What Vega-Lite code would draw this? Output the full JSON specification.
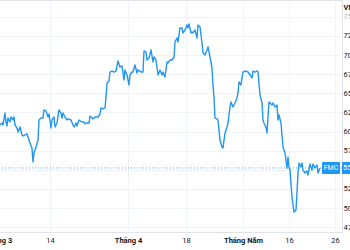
{
  "$schema": "https://vega.github.io/schema/vega-lite/v6.json",
  "width": 344,
  "height": 232,
  "autosize": {"type": "none"},
  "padding": {"left": -2, "top": 0, "right": 8, "bottom": 18},
  "background": "#ffffff",
  "config": {
    "view": {"stroke": "#e0e3eb"},
    "font": "Roboto",
    "axis": {"gridColor": "#f0f3fa", "gridWidth": 1, "domainColor": "#e0e3eb", "ticks": false, "labelColor": "#131722", "labelFontSize": 7.5}
  },
  "datasets": {
    "series": [
      {"i":0,"price":60.87},{"i":2,"price":61.13},{"i":3,"price":60.87},{"i":5,"price":62.43},{"i":6,"price":61.26},{"i":7,"price":60.74},{"i":8,"price":61.78},{"i":10,"price":61.26},{"i":11,"price":61.91},{"i":13,"price":61.52},{"i":14,"price":61.91},{"i":15,"price":60.87},{"i":17,"price":60.47},{"i":18,"price":59.95},{"i":20,"price":60.60},{"i":22,"price":59.56},{"i":23,"price":59.43},{"i":27,"price":59.69},{"i":28,"price":59.30},{"i":30,"price":58.51},{"i":32,"price":57.86},{"i":33,"price":56.03},{"i":34,"price":57.21},{"i":36,"price":57.99},{"i":38,"price":58.91},{"i":39,"price":61.52},{"i":41,"price":61.78},{"i":43,"price":61.78},{"i":44,"price":62.83},{"i":46,"price":62.70},{"i":48,"price":61.91},{"i":49,"price":62.30},{"i":51,"price":60.47},{"i":52,"price":61.52},{"i":54,"price":61.91},{"i":55,"price":60.60},{"i":57,"price":61.13},{"i":59,"price":62.83},{"i":61,"price":62.43},{"i":62,"price":61.78},{"i":63,"price":62.43},{"i":65,"price":61.91},{"i":67,"price":61.52},{"i":68,"price":61.65},{"i":71,"price":61.52},{"i":73,"price":60.87},{"i":74,"price":60.60},{"i":76,"price":61.13},{"i":77,"price":60.74},{"i":79,"price":61.52},{"i":82,"price":61.26},{"i":84,"price":61.26},{"i":85,"price":61.00},{"i":87,"price":61.13},{"i":89,"price":61.13},{"i":90,"price":62.04},{"i":92,"price":61.78},{"i":93,"price":61.65},{"i":95,"price":61.91},{"i":97,"price":61.91},{"i":98,"price":61.91},{"i":100,"price":62.30},{"i":101,"price":63.09},{"i":103,"price":62.96},{"i":105,"price":63.09},{"i":106,"price":64.53},{"i":107,"price":66.36},{"i":109,"price":66.62},{"i":110,"price":67.79},{"i":112,"price":67.92},{"i":114,"price":67.79},{"i":116,"price":67.92},{"i":118,"price":69.23},{"i":120,"price":68.45},{"i":122,"price":68.58},{"i":124,"price":66.75},{"i":125,"price":68.06},{"i":127,"price":67.40},{"i":129,"price":66.09},{"i":130,"price":67.40},{"i":132,"price":67.79},{"i":133,"price":67.79},{"i":135,"price":68.71},{"i":137,"price":67.66},{"i":138,"price":68.06},{"i":141,"price":67.79},{"i":143,"price":67.79},{"i":144,"price":70.54},{"i":146,"price":70.41},{"i":147,"price":69.36},{"i":149,"price":69.62},{"i":151,"price":70.67},{"i":153,"price":69.10},{"i":154,"price":69.75},{"i":156,"price":69.36},{"i":158,"price":67.40},{"i":160,"price":68.06},{"i":162,"price":67.40},{"i":163,"price":67.79},{"i":165,"price":67.14},{"i":167,"price":69.10},{"i":168,"price":68.97},{"i":170,"price":69.36},{"i":172,"price":69.36},{"i":174,"price":69.75},{"i":175,"price":71.72},{"i":177,"price":72.24},{"i":178,"price":71.72},{"i":180,"price":73.55},{"i":182,"price":73.55},{"i":183,"price":72.89},{"i":185,"price":73.28},{"i":187,"price":73.94},{"i":188,"price":73.55},{"i":189,"price":74.07},{"i":191,"price":72.89},{"i":192,"price":73.02},{"i":193,"price":72.89},{"i":195,"price":73.28},{"i":197,"price":72.24},{"i":198,"price":73.94},{"i":200,"price":73.68},{"i":202,"price":71.58},{"i":203,"price":70.28},{"i":205,"price":70.02},{"i":207,"price":70.67},{"i":208,"price":71.06},{"i":210,"price":69.75},{"i":212,"price":68.32},{"i":213,"price":66.09},{"i":214,"price":64.40},{"i":215,"price":61.78},{"i":217,"price":61.65},{"i":218,"price":61.52},{"i":220,"price":58.91},{"i":222,"price":57.99},{"i":223,"price":57.86},{"i":225,"price":59.82},{"i":227,"price":60.60},{"i":228,"price":61.13},{"i":230,"price":63.22},{"i":231,"price":63.87},{"i":233,"price":63.22},{"i":235,"price":63.74},{"i":237,"price":64.40},{"i":238,"price":65.05},{"i":239,"price":66.49},{"i":241,"price":66.09},{"i":242,"price":67.01},{"i":243,"price":67.79},{"i":246,"price":67.92},{"i":248,"price":67.79},{"i":250,"price":67.40},{"i":252,"price":67.01},{"i":253,"price":67.92},{"i":255,"price":67.79},{"i":257,"price":67.92},{"i":258,"price":67.79},{"i":260,"price":64.79},{"i":262,"price":63.74},{"i":263,"price":61.52},{"i":264,"price":61.13},{"i":266,"price":60.60},{"i":267,"price":59.82},{"i":268,"price":61.91},{"i":269,"price":63.87},{"i":272,"price":63.48},{"i":273,"price":63.74},{"i":275,"price":63.22},{"i":277,"price":63.48},{"i":278,"price":61.52},{"i":279,"price":62.17},{"i":281,"price":61.13},{"i":282,"price":59.56},{"i":283,"price":57.99},{"i":285,"price":57.21},{"i":287,"price":55.25},{"i":288,"price":56.68},{"i":289,"price":55.25},{"i":290,"price":54.98},{"i":292,"price":51.45},{"i":293,"price":50.41},{"i":294,"price":49.49},{"i":296,"price":49.75},{"i":297,"price":52.11},{"i":298,"price":54.59},{"i":299,"price":55.90},{"i":301,"price":55.38},{"i":302,"price":55.90},{"i":303,"price":54.98},{"i":305,"price":54.59},{"i":307,"price":54.85},{"i":308,"price":54.33},{"i":310,"price":55.77},{"i":312,"price":54.98},{"i":313,"price":55.77},{"i":315,"price":55.25},{"i":317,"price":55.64},{"i":318,"price":54.59},{"i":320,"price":55.25}
    ],
    "last": [{"price": 55.25, "label": "FMC", "value": "55.25", "lo": 54.46, "hi": 56.03, "tagStart": 322, "tagEnd": 340, "tagMid": 331, "boxStart": 342, "boxEnd": 372}]
  },
  "layer": [
    {
      "data": {"name": "series"},
      "mark": {"type": "line", "color": "#2196f3", "strokeWidth": 1.4, "strokeJoin": "round"},
      "encoding": {
        "x": {
          "field": "i", "type": "quantitative",
          "scale": {"domain": [-2, 342], "nice": false, "zero": false},
          "axis": {
            "title": null, "orient": "bottom",
            "values": [-2, 50, 128, 186, 243, 289, 335],
            "tickCount": 20,
            "labelExpr": "datum.value < 0 ? 'Tháng 3' : datum.value == 50 ? '14' : datum.value == 128 ? 'Tháng 4' : datum.value == 186 ? '18' : datum.value == 243 ? 'Tháng Năm' : datum.value == 289 ? '16' : '26'",
            "labelFontWeight": {"condition": {"test": "datum.value < 0 || datum.value == 128 || datum.value == 243", "value": "bold"}, "value": "normal"},
            "labelFlush": false, "labelOverlap": false, "labelBound": false, "labelPadding": 4
          }
        },
        "y": {
          "field": "price", "type": "quantitative",
          "scale": {"domain": [46.88, 77.2], "nice": false, "zero": false},
          "axis": {
            "orient": "right",
            "values": [47.5, 50, 52.5, 55, 57.5, 60, 62.5, 65, 67.5, 70, 72.5, 75],
            "tickCount": 20,
            "format": ".2f",
            "labelPadding": 1,
            "labelOverlap": false,
            "labelColor": {"condition": {"test": "datum.value == 75", "value": "#b2b5be"}, "value": "#131722"},
            "title": "VND", "titleAngle": 0, "titleAlign": "left", "titleBaseline": "middle",
            "titleX": 1, "titleY": 7, "titleFontSize": 7.5, "titleFontWeight": "bold", "titleColor": "#131722"
          }
        }
      }
    },
    {
      "data": {"name": "last"},
      "mark": {"type": "rule", "color": "#2196f3", "strokeDash": [1, 2], "strokeWidth": 1, "opacity": 0.8},
      "encoding": {"y": {"field": "price", "type": "quantitative"}}
    },
    {
      "data": {"name": "last"},
      "mark": {"type": "rect", "color": "#2196f3", "cornerRadius": 1},
      "encoding": {
        "x": {"field": "tagStart", "type": "quantitative"},
        "x2": {"field": "tagEnd"},
        "y": {"field": "lo", "type": "quantitative"},
        "y2": {"field": "hi"}
      }
    },
    {
      "data": {"name": "last"},
      "mark": {"type": "text", "color": "#ffffff", "fontSize": 7, "align": "center", "baseline": "middle"},
      "encoding": {
        "x": {"field": "tagMid", "type": "quantitative"},
        "y": {"field": "price", "type": "quantitative"},
        "text": {"field": "label"}
      }
    },
    {
      "data": {"name": "last"},
      "mark": {"type": "rect", "color": "#2196f3"},
      "encoding": {
        "x": {"field": "boxStart", "type": "quantitative"},
        "x2": {"field": "boxEnd"},
        "y": {"field": "lo", "type": "quantitative"},
        "y2": {"field": "hi"}
      }
    },
    {
      "data": {"name": "last"},
      "mark": {"type": "text", "color": "#ffffff", "fontSize": 7.5, "align": "left", "baseline": "middle", "dx": 1},
      "encoding": {
        "x": {"field": "boxStart", "type": "quantitative"},
        "y": {"field": "price", "type": "quantitative"},
        "text": {"field": "value"}
      }
    }
  ]
}
